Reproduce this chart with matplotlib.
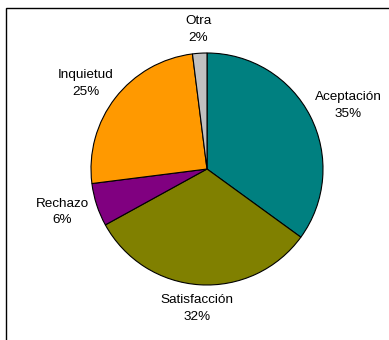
import numpy as np
import matplotlib.pyplot as plt
from matplotlib.patches import Rectangle

plt.rcParams['font.family'] = ['Liberation Sans', 'DejaVu Sans']

categorias = ["Aceptación", "Satisfacción", "Rechazo", "Inquietud", "Otra"]
porcentajes = [35, 32, 6, 25, 2]
colores = ["#008080", "#808000", "#800080", "#FF9900", "#C0C0C0"]

W, H = 389, 340
fig = plt.figure(figsize=(W / 100, H / 100), dpi=100)
ax = fig.add_axes([0, 0, 1, 1])

# pie centre and radius in pixels
cx, cy, r = 207, 169, 116

wedges, _ = ax.pie(porcentajes, colors=colores, startangle=90, counterclock=False,
                   radius=1, wedgeprops=dict(edgecolor="black", linewidth=0.8))

ax.set_xlim(-cx / r, (W - cx) / r)
ax.set_ylim(-(H - cy) / r, cy / r)
ax.set_aspect("auto")
ax.axis("off")

# labels outside each slice: the text box touches a point just beyond the rim
renderer = fig.canvas.get_renderer()
for w, cat, p in zip(wedges, categorias, porcentajes):
    ang = np.deg2rad((w.theta1 + w.theta2) / 2)
    t = ax.text(0, 0, f"{cat}\n{p}%", ha="center", va="center",
                fontsize=9.7, linespacing=1.5)
    bb = t.get_window_extent(renderer)
    hw, hh = bb.width / 2 / r, bb.height / 2 / r
    d = 1.08
    t.set_position((d * np.cos(ang) + hw * np.cos(ang),
                    d * np.sin(ang) + hh * np.sin(ang)))

# frame around the chart area
fig.patches.append(Rectangle((6 / W, -0.1), 1.2, 1.1 - 8 / H, transform=fig.transFigure,
                             fill=False, edgecolor="black", linewidth=1.0))

fig.savefig("out.png", dpi=100)
